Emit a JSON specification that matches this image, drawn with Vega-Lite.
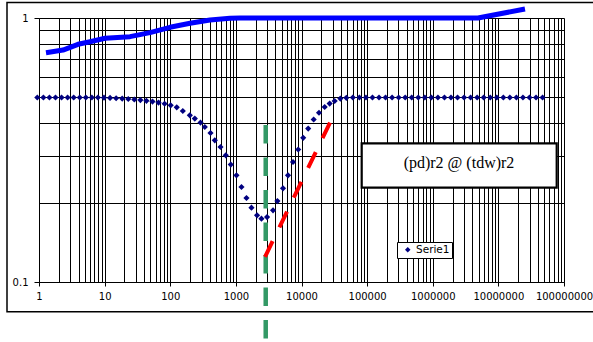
{
  "$schema": "https://vega.github.io/schema/vega-lite/v6.json",
  "width": 525,
  "height": 264,
  "autosize": {"type": "none"},
  "padding": {"left": 39, "top": 18, "right": 29, "bottom": 60},
  "background": "white",
  "config": {"view": {"stroke": null}, "font": "DejaVu Sans"},
  "datasets": {
    "frame": [{"x": 0.3254, "x2": 354000000, "y": 1.145, "y2": 0.0772}],
    "box": [{"x": 82660, "x2": 77400000, "y": 0.3353, "y2": 0.2276}],
    "note": [{"x": 2510000, "y": 0.2816, "label": "(pd)r2 @ (tdw)r2"}],
    "blue": [
      {"x": 1.278, "y": 0.739}, {"x": 2.32, "y": 0.756}, {"x": 3.93, "y": 0.795}, {"x": 5.99, "y": 0.813},
      {"x": 10.13, "y": 0.838}, {"x": 24.36, "y": 0.85}, {"x": 49.1, "y": 0.88}, {"x": 99.1, "y": 0.922},
      {"x": 200, "y": 0.955}, {"x": 403, "y": 0.983}, {"x": 813.6, "y": 0.997}, {"x": 1156, "y": 1.0},
      {"x": 4890000, "y": 1.0}, {"x": 25450000, "y": 1.082}
    ],
    "green": [{"x": 2850, "y": 0.3934, "y2": 0.05}],
    "red": [{"x": 2779, "y": 0.1244}, {"x": 27190, "y": 0.4013}],
    "dots": [
      {"series": "Serie1", "x": 0.942, "y": 0.5}, {"series": "Serie1", "x": 1.166, "y": 0.5},
      {"series": "Serie1", "x": 1.442, "y": 0.5}, {"series": "Serie1", "x": 1.784, "y": 0.5},
      {"series": "Serie1", "x": 2.207, "y": 0.5}, {"series": "Serie1", "x": 2.73, "y": 0.5},
      {"series": "Serie1", "x": 3.378, "y": 0.5}, {"series": "Serie1", "x": 4.178, "y": 0.5},
      {"series": "Serie1", "x": 5.168, "y": 0.5}, {"series": "Serie1", "x": 6.392, "y": 0.5},
      {"series": "Serie1", "x": 7.907, "y": 0.5}, {"series": "Serie1", "x": 9.781, "y": 0.499},
      {"series": "Serie1", "x": 12.1, "y": 0.498}, {"series": "Serie1", "x": 14.97, "y": 0.4965},
      {"series": "Serie1", "x": 18.52, "y": 0.4952}, {"series": "Serie1", "x": 22.91, "y": 0.4935},
      {"series": "Serie1", "x": 28.34, "y": 0.4913}, {"series": "Serie1", "x": 35.06, "y": 0.4887},
      {"series": "Serie1", "x": 43.36, "y": 0.4857}, {"series": "Serie1", "x": 53.64, "y": 0.4823},
      {"series": "Serie1", "x": 66.35, "y": 0.4781}, {"series": "Serie1", "x": 82.08, "y": 0.4732},
      {"series": "Serie1", "x": 101.5, "y": 0.467}, {"series": "Serie1", "x": 125.6, "y": 0.4589},
      {"series": "Serie1", "x": 155.4, "y": 0.4444}, {"series": "Serie1", "x": 198.8, "y": 0.428},
      {"series": "Serie1", "x": 236.8, "y": 0.4159}, {"series": "Serie1", "x": 289.2, "y": 0.4016},
      {"series": "Serie1", "x": 336.2, "y": 0.3865}, {"series": "Serie1", "x": 410.7, "y": 0.3667},
      {"series": "Serie1", "x": 477.3, "y": 0.3441}, {"series": "Serie1", "x": 583.1, "y": 0.3246},
      {"series": "Serie1", "x": 702, "y": 0.3019}, {"series": "Serie1", "x": 836.2, "y": 0.2784},
      {"series": "Serie1", "x": 1021, "y": 0.2536}, {"series": "Serie1", "x": 1217, "y": 0.229},
      {"series": "Serie1", "x": 1450, "y": 0.208}, {"series": "Serie1", "x": 1728, "y": 0.1913},
      {"series": "Serie1", "x": 2102, "y": 0.1789}, {"series": "Serie1", "x": 2453, "y": 0.1738},
      {"series": "Serie1", "x": 2985, "y": 0.1762}, {"series": "Serie1", "x": 3683, "y": 0.1869},
      {"series": "Serie1", "x": 4297, "y": 0.2026}, {"series": "Serie1", "x": 5229, "y": 0.2264},
      {"series": "Serie1", "x": 6231, "y": 0.2536}, {"series": "Serie1", "x": 7425, "y": 0.2848},
      {"series": "Serie1", "x": 8910, "y": 0.3177}, {"series": "Serie1", "x": 10615, "y": 0.3517},
      {"series": "Serie1", "x": 12647, "y": 0.3812}, {"series": "Serie1", "x": 15337, "y": 0.4127},
      {"series": "Serie1", "x": 18469, "y": 0.4375}, {"series": "Serie1", "x": 22549, "y": 0.4602},
      {"series": "Serie1", "x": 26870, "y": 0.474}, {"series": "Serie1", "x": 32017, "y": 0.485},
      {"series": "Serie1", "x": 39091, "y": 0.4952}, {"series": "Serie1", "x": 48244, "y": 0.4985},
      {"series": "Serie1", "x": 60580, "y": 0.5}, {"series": "Serie1", "x": 76210, "y": 0.5},
      {"series": "Serie1", "x": 95880, "y": 0.5}, {"series": "Serie1", "x": 120600, "y": 0.5},
      {"series": "Serie1", "x": 151800, "y": 0.5}, {"series": "Serie1", "x": 190900, "y": 0.5},
      {"series": "Serie1", "x": 240200, "y": 0.5}, {"series": "Serie1", "x": 302200, "y": 0.5},
      {"series": "Serie1", "x": 380200, "y": 0.5}, {"series": "Serie1", "x": 478300, "y": 0.5},
      {"series": "Serie1", "x": 601700, "y": 0.5}, {"series": "Serie1", "x": 756900, "y": 0.5},
      {"series": "Serie1", "x": 952200, "y": 0.5}, {"series": "Serie1", "x": 1198000, "y": 0.5},
      {"series": "Serie1", "x": 1507000, "y": 0.5}, {"series": "Serie1", "x": 1896000, "y": 0.5},
      {"series": "Serie1", "x": 2385000, "y": 0.5}, {"series": "Serie1", "x": 3000000, "y": 0.5},
      {"series": "Serie1", "x": 3775000, "y": 0.5}, {"series": "Serie1", "x": 4749000, "y": 0.5},
      {"series": "Serie1", "x": 5975000, "y": 0.5}, {"series": "Serie1", "x": 7516000, "y": 0.5},
      {"series": "Serie1", "x": 9456000, "y": 0.5}, {"series": "Serie1", "x": 11900000, "y": 0.5},
      {"series": "Serie1", "x": 14970000, "y": 0.5}, {"series": "Serie1", "x": 18830000, "y": 0.5},
      {"series": "Serie1", "x": 23690000, "y": 0.5}, {"series": "Serie1", "x": 29800000, "y": 0.5},
      {"series": "Serie1", "x": 37490000, "y": 0.5}, {"series": "Serie1", "x": 47160000, "y": 0.5}
    ]
  },
  "encoding": {
    "x": {
      "field": "x",
      "type": "quantitative",
      "scale": {"type": "log", "domain": [1, 100000000], "nice": false},
      "axis": {
        "title": null,
        "values": [1,2,3,4,5,6,7,8,9,10,20,30,40,50,60,70,80,90,100,200,300,400,500,600,700,800,900,1000,2000,3000,4000,5000,6000,7000,8000,9000,10000,20000,30000,40000,50000,60000,70000,80000,90000,100000,200000,300000,400000,500000,600000,700000,800000,900000,1000000,2000000,3000000,4000000,5000000,6000000,7000000,8000000,9000000,10000000,20000000,30000000,40000000,50000000,60000000,70000000,80000000,90000000,100000000],
        "format": "d",
        "labelExpr": "indexof([1,10,100,1000,10000,100000,1000000,10000000,100000000], datum.value) >= 0 ? datum.label : ''",
        "grid": true,
        "gridColor": "#000000",
        "gridWidth": 1,
        "gridOpacity": 1,
        "tickOpacity": {"condition": {"test": "indexof([1,10,100,1000,10000,100000,1000000,10000000,100000000], datum.value) >= 0", "value": 1}, "value": 0},
        "tickSize": 4,
        "tickColor": "#000000",
        "domainColor": "#000000",
        "labelFont": "DejaVu Sans",
        "labelFontSize": 10,
        "labelColor": "#000000",
        "labelPadding": 5,
        "labelOverlap": false,
        "labelFlush": false,
        "labelBound": false
      }
    },
    "y": {
      "field": "y",
      "type": "quantitative",
      "scale": {"type": "log", "domain": [0.1, 1], "nice": false},
      "axis": {
        "title": null,
        "values": [0.1, 0.2, 0.3, 0.4, 0.5, 0.6, 0.7, 0.8, 0.9, 1],
        "labelExpr": "datum.value == 1 ? '1' : (datum.value == 0.1 ? '0.1' : '')",
        "grid": true,
        "gridColor": "#000000",
        "gridWidth": 1,
        "gridOpacity": 1,
        "tickOpacity": {"condition": {"test": "datum.value == 1 || datum.value == 0.1", "value": 1}, "value": 0},
        "tickSize": 5,
        "tickColor": "#000000",
        "domainColor": "#000000",
        "labelFont": "DejaVu Sans",
        "labelFontSize": 10,
        "labelColor": "#000000",
        "labelPadding": 6,
        "labelOverlap": false,
        "labelBound": false
      }
    }
  },
  "layer": [
    {
      "data": {"name": "frame"},
      "mark": {"type": "rect", "filled": false, "stroke": "#000000", "strokeWidth": 1.5, "clip": false},
      "encoding": {"x2": {"field": "x2"}, "y2": {"field": "y2"}}
    },
    {
      "data": {"name": "box"},
      "mark": {"type": "rect", "fill": "#ffffff", "stroke": "#000000", "strokeWidth": 2.2, "clip": false},
      "encoding": {"x2": {"field": "x2"}, "y2": {"field": "y2"}}
    },
    {
      "data": {"name": "note"},
      "mark": {"type": "text", "font": "Liberation Serif", "fontSize": 16, "align": "center", "baseline": "middle", "color": "#000000"},
      "encoding": {"text": {"field": "label"}}
    },
    {
      "data": {"name": "blue"},
      "mark": {"type": "line", "color": "#0000ff", "strokeWidth": 5, "clip": false, "strokeCap": "butt", "strokeJoin": "round"},
      "encoding": {}
    },
    {
      "data": {"name": "dots"},
      "mark": {"type": "point", "shape": "diamond", "filled": true, "size": 38, "opacity": 1, "clip": false},
      "encoding": {
        "color": {
          "field": "series",
          "type": "nominal",
          "scale": {"range": ["#000080"]},
          "legend": {
            "title": null,
            "orient": "none",
            "legendX": 358,
            "legendY": 224,
            "strokeColor": "#000000",
            "fillColor": "#ffffff",
            "padding": 2.5,
            "cornerRadius": 0,
            "labelFont": "DejaVu Sans",
            "labelFontSize": 10.5,
            "labelColor": "#000000",
            "labelOffset": 3,
            "symbolType": "diamond",
            "symbolSize": 30,
            "symbolOffset": 3
          }
        }
      }
    },
    {
      "data": {"name": "green"},
      "mark": {"type": "rule", "color": "#339966", "strokeWidth": 4.5, "strokeDash": [18.5, 14], "clip": false},
      "encoding": {"y2": {"field": "y2"}}
    },
    {
      "data": {"name": "red"},
      "mark": {"type": "line", "color": "#ff0000", "strokeWidth": 4, "strokeDash": [17.5, 15.5], "clip": false},
      "encoding": {}
    }
  ]
}
